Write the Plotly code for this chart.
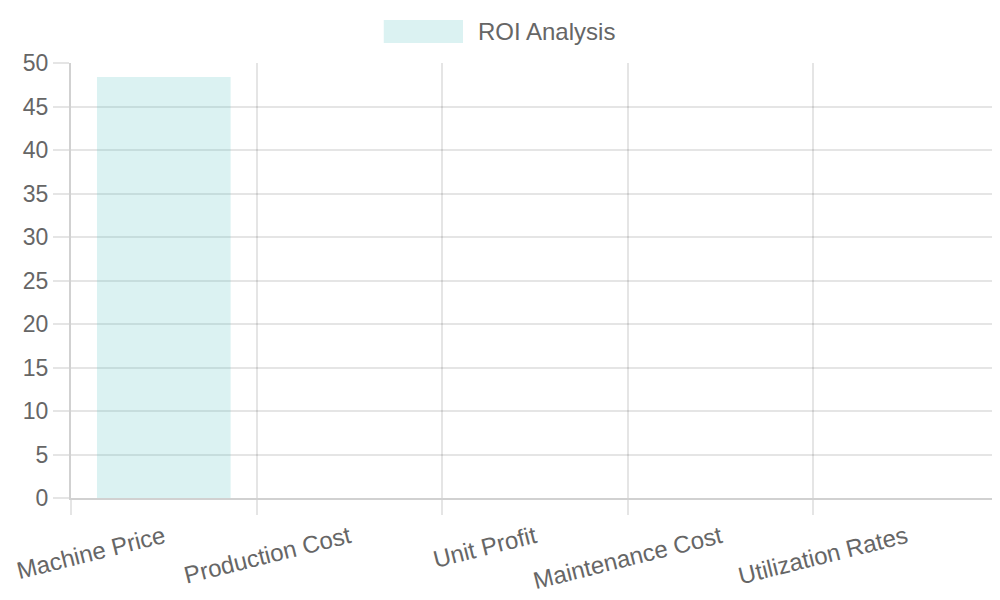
import plotly.graph_objects as go

# ROI bar chart, one dataset
categories = ["Machine Price", "Production Cost", "Unit Profit",
              "Maintenance Cost", "Utilization Rates"]
roi_values = [48.4, 0, 0, 0, 0]
series_name = "ROI Analysis"

FILL = "rgba(75,192,192,0.2)"
TEXT = "#666666"
GRID = "rgba(0,0,0,0.1)"
AXIS = "rgba(0,0,0,0.18)"
FONT = "Liberation Sans, Arial, sans-serif"

fig = go.Figure(go.Bar(x=categories, y=roi_values, name=series_name,
                       marker=dict(color=FILL, line=dict(width=0)),
                       showlegend=False))

# page body has an 8px margin, so margins are shifted to compensate
fig.update_layout(
    width=1000, height=600,
    margin=dict(l=63, r=9, t=55, b=110),
    paper_bgcolor="white", plot_bgcolor="white",
    font=dict(family=FONT, size=24, color=TEXT),
    bargap=0.28,
    xaxis=dict(type="category", tickson="boundaries", showgrid=True,
               gridcolor=GRID, gridwidth=1.5, ticks="outside", ticklen=15,
               tickcolor=GRID, tickwidth=1.5, automargin=False,
               showline=True, linecolor=AXIS, linewidth=2, tickangle=-14,
               ticklabelstandoff=14, tickfont=dict(size=24, color=TEXT)),
    yaxis=dict(range=[0, 50], dtick=5, showgrid=True, gridcolor=GRID,
               gridwidth=1.5, ticks="outside", ticklen=16, tickcolor=GRID,
               tickwidth=1.5, zeroline=False, automargin=False,
               showline=True, linecolor=AXIS, linewidth=2,
               tickfont=dict(size=23, color=TEXT)),
)

# legend drawn as box + label (Chart.js style wide swatch)
fig.add_shape(type="rect", xref="paper", yref="paper",
              x0=0.337, x1=0.4224, y0=1.046, y1=1.099,
              fillcolor=FILL, line=dict(width=0))
fig.add_annotation(text=series_name, xref="paper", yref="paper",
                   x=0.4364, y=1.0713, xanchor="left", yanchor="middle",
                   showarrow=False, font=dict(size=24, color=TEXT))

fig.write_html("out.html")
